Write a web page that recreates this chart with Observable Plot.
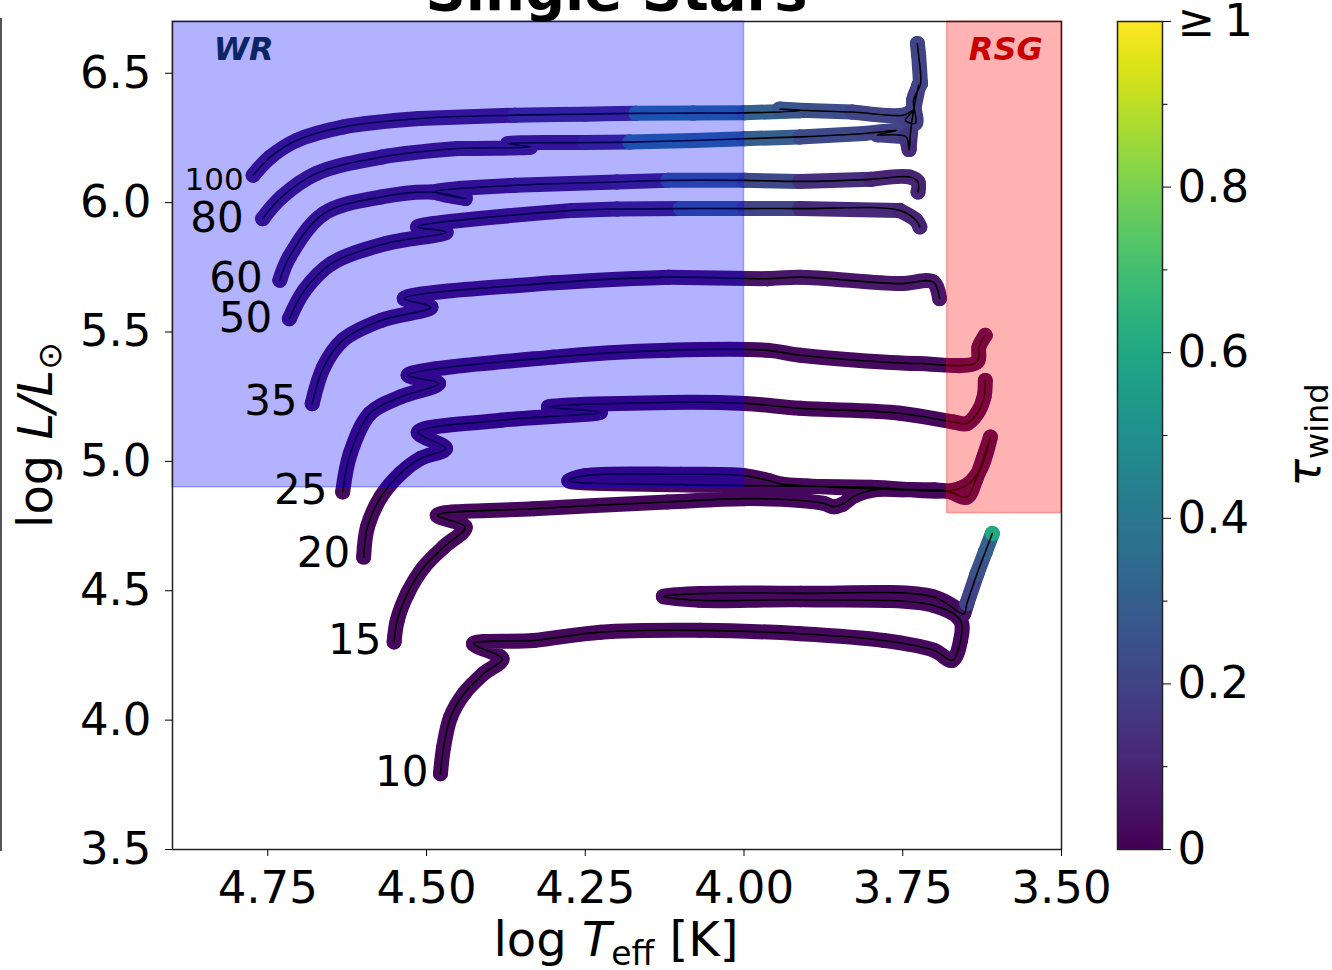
<!DOCTYPE html>
<html><head><meta charset="utf-8">
<script src="https://cdn.jsdelivr.net/npm/d3@7"></script>
<script src="https://cdn.jsdelivr.net/npm/@observablehq/plot@0.6"></script>
<style>
body{margin:0;background:#fff;}
#wrap{position:relative;width:1332px;height:970px;overflow:hidden;font-family:"DejaVu Sans",sans-serif;background:#fff;}
#main{position:absolute;left:0;top:0;}
#cbar{position:absolute;left:1115px;top:0;}
#edge{position:absolute;left:0;top:18px;width:2px;height:833px;background:#555;}
</style></head><body>
<div id="wrap"><div id="edge"></div><div id="main"></div><div id="cbar"></div></div>
<script>
// ---- data: each track point is [log Teff, log L, tau_wind] ----
const track100 = [[4.773,6.106,0.07],[4.746,6.176,0.07],[4.704,6.241,0.07],[4.632,6.292,0.07],[4.511,6.325,0.08],[4.361,6.338,0.13],[4.25,6.342,0.13],[4.17,6.345,0.4],[4.08,6.346,0.38],[3.999,6.347,0.3],[3.912,6.355,0.26],[3.944,6.362,0.26],[3.90,6.356,0.24],[3.83,6.350,0.2],[3.749,6.338,0.2],[3.733,6.357,0.2],[3.746,6.318,0.18],[3.730,6.307,0.18],[3.733,6.396,0.18],[3.722,6.460,0.2],[3.725,6.569,0.2],[3.727,6.615,0.2]];
const track80 = [[4.758,5.938,0.07],[4.728,6.022,0.07],[4.674,6.112,0.07],[4.571,6.176,0.07],[4.451,6.209,0.08],[4.336,6.215,0.08],[4.372,6.228,0.08],[4.25,6.232,0.12],[4.18,6.234,0.38],[4.08,6.240,0.36],[3.999,6.247,0.3],[3.912,6.254,0.22],[3.811,6.267,0.2],[3.759,6.279,0.2],[3.790,6.262,0.18],[3.745,6.255,0.15],[3.740,6.205,0.12],[3.738,6.267,0.15],[3.733,6.357,0.18],[3.725,6.453,0.2]];
const track60 = [[4.731,5.700,0.06],[4.716,5.790,0.06],[4.662,5.957,0.06],[4.571,6.022,0.06],[4.493,6.041,0.06],[4.439,6.016,0.06],[4.487,6.041,0.06],[4.361,6.067,0.08],[4.20,6.080,0.1],[4.12,6.086,0.3],[3.999,6.086,0.22],[3.912,6.082,0.14],[3.80,6.090,0.1],[3.739,6.099,0.1],[3.726,6.080,0.1],[3.726,6.041,0.1]];
const track50 = [[4.716,5.551,0.05],[4.692,5.661,0.05],[4.650,5.764,0.05],[4.565,5.841,0.05],[4.469,5.886,0.05],[4.514,5.906,0.05],[4.270,5.970,0.08],[4.20,5.975,0.1],[4.10,5.977,0.28],[3.999,5.977,0.2],[3.912,5.977,0.12],[3.755,5.970,0.1],[3.729,5.932,0.1],[3.723,5.906,0.1]];
const track35 = [[4.680,5.223,0.04],[4.662,5.364,0.04],[4.632,5.468,0.04],[4.571,5.545,0.04],[4.493,5.596,0.04],[4.535,5.629,0.04],[4.300,5.690,0.04],[4.119,5.712,0.05],[3.963,5.706,0.06],[3.912,5.712,0.06],[3.755,5.687,0.06],[3.702,5.693,0.06],[3.692,5.629,0.06]];
const track25 = [[4.632,4.882,0.03],[4.620,5.030,0.03],[4.589,5.185,0.03],[4.541,5.249,0.03],[4.481,5.301,0.03],[4.529,5.333,0.03],[4.300,5.403,0.03],[4.119,5.429,0.03],[3.962,5.429,0.03],[3.911,5.410,0.03],[3.727,5.378,0.03],[3.633,5.384,0.03],[3.630,5.442,0.03],[3.620,5.487,0.03]];
const track20 = [[4.599,4.630,0.02],[4.593,4.746,0.02],[4.572,4.862,0.02],[4.541,4.953,0.02],[4.509,5.012,0.02],[4.470,5.050,0.02],[4.513,5.112,0.02],[4.383,5.159,0.02],[4.226,5.190,0.02],[4.308,5.210,0.02],[4.119,5.228,0.02],[3.999,5.224,0.02],[3.911,5.205,0.02],[3.754,5.186,0.02],[3.670,5.152,0.02],[3.649,5.146,0.02],[3.633,5.185,0.02],[3.622,5.249,0.02],[3.620,5.313,0.02]];
const track15 = [[4.551,4.302,0.02],[4.546,4.386,0.02],[4.530,4.489,0.02],[4.504,4.592,0.02],[4.473,4.669,0.02],[4.439,4.746,0.02],[4.483,4.791,0.02],[4.331,4.817,0.02],[4.121,4.843,0.02],[4.000,4.856,0.02],[3.911,4.849,0.02],[3.875,4.838,0.02],[3.859,4.825,0.02],[3.845,4.834,0.02],[3.825,4.868,0.02],[3.795,4.890,0.02],[3.750,4.890,0.02],[3.680,4.885,0.02],[3.649,4.862,0.02],[3.635,4.930,0.02],[3.622,5.020,0.02],[3.612,5.094,0.02],[3.630,4.960,0.02],[3.660,4.895,0.02],[3.800,4.900,0.02],[3.940,4.905,0.02],[4.100,4.910,0.02],[4.276,4.925,0.02],[4.250,4.945,0.02],[4.100,4.950,0.02],[4.000,4.945,0.02],[3.960,4.925,0.02],[3.940,4.912,0.02],[3.900,4.905,0.02],[3.810,4.895,0.02],[3.700,4.890,0.02]];
const track10 = [[4.478,3.793,0.02],[4.473,3.896,0.02],[4.462,4.012,0.02],[4.441,4.102,0.02],[4.410,4.180,0.02],[4.381,4.237,0.02],[4.426,4.295,0.02],[4.331,4.308,0.02],[4.226,4.340,0.02],[4.069,4.347,0.02],[3.911,4.334,0.02],[3.780,4.308,0.02],[3.701,4.270,0.02],[3.672,4.231,0.02],[3.659,4.308,0.02],[3.659,4.385,0.02],[3.701,4.443,0.02],[3.911,4.465,0.02],[4.069,4.463,0.02],[4.127,4.478,0.02],[4.069,4.489,0.02],[3.911,4.490,0.02],[3.701,4.476,0.02],[3.654,4.411,0.05],[3.649,4.450,0.2],[3.633,4.566,0.25],[3.620,4.650,0.3],[3.609,4.721,0.6]];

const masses = [100, 80, 60, 50, 35, 25, 20, 15, 10];
const massTracks = [track100, track80, track60, track50, track35, track25, track20, track15, track10];
const massLabelT = [4.788, 4.788, 4.758, 4.743, 4.703, 4.656, 4.620, 4.571, 4.497];
const massLabelL = [6.086, 5.939, 5.708, 5.553, 5.232, 4.888, 4.645, 4.308, 3.798];

const regionNames = ["WR", "RSG"];
const regionT1 = [4.9, 3.68];
const regionT2 = [4.0, 3.5];
const regionL1 = [4.9, 4.8];
const regionL2 = [6.7, 6.7];
const regionLabelT = [4.835, 3.646];
const regionLabelL = [6.589, 6.589];

const xTicks = [4.75, 4.5, 4.25, 4.0, 3.75, 3.5];
const yTicks = [3.5, 4.0, 4.5, 5.0, 5.5, 6.0, 6.5];
const cbarTicks = [0, 0.2, 0.4, 0.6, 0.8, 1.0];
const cbarMinorTicks = [0.1, 0.3, 0.5, 0.7, 0.9];

// ---- build table ----
const rows = masses.flatMap((m, k) => massTracks[k].map(([T, L, tau], i) => ({mass: m, T, L, tau, i})));
const labels = masses.map((m, k) => ({text: String(m), T: massLabelT[k], L: massLabelL[k], size: m === 100 ? 31 : 42}));

const colorOpts = {type: "linear", scheme: "viridis", domain: [0, 1], clamp: true};
const curve = "catmull-rom";

const chart = Plot.plot({
  width: 1332, height: 970,
  marginLeft: 172, marginRight: 271, marginTop: 21, marginBottom: 121,
  x: {domain: [4.9, 3.5]},
  y: {domain: [3.5, 6.7]},
  color: colorOpts,
  style: {fontFamily: '"DejaVu Sans", sans-serif', fontSize: "45px", background: "transparent", color: "#000"},
  marks: [
    Plot.line(rows, {x: "T", y: "L", z: "mass", stroke: "tau", curve, strokeWidth: 15, strokeLinecap: "round", strokeLinejoin: "round"}),
    Plot.dot(rows, {x: "T", y: "L", r: 7.5, fill: "tau"}),
    Plot.line(rows, {x: "T", y: "L", z: "mass", stroke: "black", curve, strokeWidth: 1.6, strokeLinejoin: "round"}),
    Plot.rect([0], {x1: [regionT1[0]], x2: [regionT2[0]], y1: [regionL1[0]], y2: [regionL2[0]], fill: "blue", fillOpacity: 0.3, stroke: "blue", strokeOpacity: 0.3, strokeWidth: 1.5}),
    Plot.rect([0], {x1: [regionT1[1]], x2: [regionT2[1]], y1: [regionL1[1]], y2: [regionL2[1]], fill: "red", fillOpacity: 0.3, stroke: "red", strokeOpacity: 0.3, strokeWidth: 1.5}),
    Plot.text([regionNames[0]], {x: [regionLabelT[0]], y: [regionLabelL[0]], text: d => d, fill: "#0b2566", fontWeight: "bold", fontStyle: "italic", fontSize: 32, textAnchor: "start"}),
    Plot.text([regionNames[1]], {x: [regionLabelT[1]], y: [regionLabelL[1]], text: d => d, fill: "#c80000", fontWeight: "bold", fontStyle: "italic", fontSize: 32, textAnchor: "start"}),
    Plot.text(labels, {x: "T", y: "L", text: "text", fontSize: "size", textAnchor: "end", fill: "black"}),
    Plot.frame({stroke: "#222", strokeWidth: 1.5}),
    Plot.axisX({ticks: xTicks, tickFormat: d3.format(".2f"), tickSize: 7, tickPadding: 15, label: null, fontSize: 45}),
    Plot.axisY({ticks: yTicks, tickFormat: d3.format(".1f"), tickSize: 7, tickPadding: 14, label: null, fontSize: 45})
  ]
});
document.getElementById("main").appendChild(chart);

const svg = d3.select(chart);
svg.append("text").attr("x", 616.5).attr("y", 10).attr("text-anchor", "middle")
  .attr("font-size", 56).attr("font-weight", "bold").attr("fill", "#000").text("Single Stars");
const xl = svg.append("text").attr("x", 616).attr("y", 956).attr("text-anchor", "middle").attr("font-size", 48).attr("fill", "#000");
xl.append("tspan").text("log ");
xl.append("tspan").attr("font-style", "italic").text("T");
xl.append("tspan").attr("font-size", 33).attr("dy", 9).text("eff");
xl.append("tspan").attr("dy", -9).text(" [K]");
const yl = svg.append("text").attr("transform", "translate(52,435) rotate(-90)").attr("text-anchor", "middle").attr("font-size", 48).attr("fill", "#000");
yl.append("tspan").text("log ");
yl.append("tspan").attr("font-style", "italic").text("L/L");
yl.append("tspan").attr("font-size", 33).attr("dy", 9).text("\u2299");

// ---- colorbar ----
const cbar = Plot.plot({
  width: 217, height: 970,
  marginLeft: 2, marginRight: 170, marginTop: 21, marginBottom: 121,
  x: {domain: [0, 1], axis: null},
  y: {domain: [0, 1]},
  color: colorOpts,
  style: {fontFamily: '"DejaVu Sans", sans-serif', fontSize: "45px", background: "transparent", color: "#000"},
  marks: [
    Plot.raster({x1: 0, x2: 1, y1: 0, y2: 1, width: 1, height: 256, fill: (x, y) => y, imageRendering: "auto"}),
    Plot.frame({stroke: "#222", strokeWidth: 1.5}),
    Plot.axisY({anchor: "right", ticks: cbarTicks, tickSize: 8, tickPadding: 7, label: null, fontSize: 45,
      tickFormat: d => d === 1 ? "\u2265\u20091" : d === 0 ? "0" : d3.format(".1f")(d)}),
    Plot.axisY({anchor: "right", ticks: cbarMinorTicks, tickSize: 4.5, label: null, tickFormat: () => ""})
  ]
});
document.getElementById("cbar").appendChild(cbar);
const tl = d3.select(cbar).append("text").attr("transform", "translate(205,435) rotate(-90)").attr("text-anchor", "middle").attr("font-size", 46).attr("fill", "#000");
tl.append("tspan").attr("font-style", "italic").text("\u03c4");
tl.append("tspan").attr("font-size", 32).attr("dy", 8).text("wind");
</script>
</body></html>
